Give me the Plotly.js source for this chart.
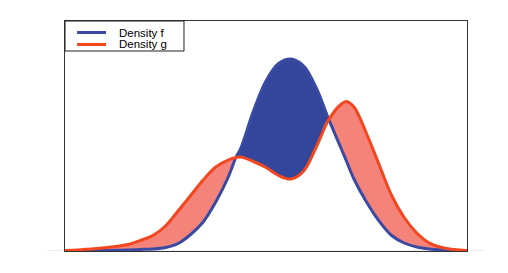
<!DOCTYPE html>
<html>
<head>
<meta charset="utf-8">
<script src="https://cdn.plot.ly/plotly-3.0.1.min.js"></script>
<style>html,body{margin:0;padding:0;background:#fff;}#chart{width:508px;height:273px;}</style>
</head>
<body>
<div id="chart"></div>
<script>
// x positions
const xs = [-4, -3.75, -3.5, -3.25, -3, -2.75, -2.5, -2.25, -2, -1.75, -1.5, -1.25, -1, -0.75, -0.6, -0.5, -0.25,
            0, 0.25, 0.5, 0.75, 1, 1.25, 1.5, 1.6, 1.75, 2, 2.25, 2.5, 2.75, 3, 3.25, 3.5, 3.75, 4];
// Density f (blue)
const densityF = [0.0004, 0.0006, 0.0008, 0.001, 0.0014, 0.002, 0.003, 0.004, 0.007, 0.015, 0.033, 0.058, 0.098, 0.148, 0.187, 0.206, 0.280,
                  0.340, 0.375, 0.384, 0.370, 0.326, 0.263, 0.204, 0.180, 0.144, 0.098, 0.060, 0.031, 0.016, 0.008, 0.004, 0.002, 0.001, 0.0004];
// Density g (red)
const densityG = [0.001, 0.002, 0.004, 0.006, 0.009, 0.013, 0.021, 0.031, 0.050, 0.080, 0.111, 0.142, 0.168, 0.182, 0.187, 0.188, 0.179,
                  0.167, 0.151, 0.144, 0.160, 0.208, 0.263, 0.294, 0.299, 0.288, 0.235, 0.173, 0.111, 0.067, 0.036, 0.016, 0.007, 0.003, 0.001];
const legendLabels = ["Density f", "Density g"];

const blueLine = "#3a4aa3", blueFill = "#34469b";
const redLine = "#f2471f", redFill = "#f4837a";

const lower = densityF.map((v, i) => Math.min(v, densityG[i]));

const hidden = {x: xs, y: lower, mode: "lines", line: {width: 0, shape: "spline"}, showlegend: false, hoverinfo: "skip"};
const traces = [
  Object.assign({}, hidden),
  {x: xs, y: densityF, mode: "lines", fill: "tonexty", fillcolor: blueFill, line: {width: 0, shape: "spline"}, showlegend: false, hoverinfo: "skip"},
  Object.assign({}, hidden),
  {x: xs, y: densityG, mode: "lines", fill: "tonexty", fillcolor: redFill, line: {width: 0, shape: "spline"}, showlegend: false, hoverinfo: "skip"},
  {x: xs, y: densityF, mode: "lines", name: legendLabels[0], line: {color: blueLine, width: 3, shape: "spline"}, showlegend: false},
  {x: xs, y: densityG, mode: "lines", name: legendLabels[1], line: {color: redLine, width: 3, shape: "spline"}, showlegend: false}
];

const font = {family: "Liberation Sans, Arial, Helvetica, sans-serif", size: 11.5, color: "#000"};

// legend geometry in paper units (plot area 402 x 230 px)
const yF = (251 - 32.5) / 230, yG = (251 - 44.5) / 230;

const layout = {
  width: 508, height: 273,
  margin: {l: 65, r: 41, t: 21, b: 22},
  paper_bgcolor: "#fff", plot_bgcolor: "#fff",
  showlegend: false,
  font: font,
  xaxis: {range: [-4, 4], showgrid: false, zeroline: false, showticklabels: false, ticks: "",
          showline: true, mirror: true, linecolor: "#333", linewidth: 1},
  yaxis: {range: [0, 0.46], showgrid: false, zeroline: false, showticklabels: false, ticks: "",
          showline: true, mirror: true, linecolor: "#333", linewidth: 1},
  shapes: [
    {type: "line", xref: "paper", yref: "paper", x0: -0.045, x1: 1.045, y0: 0.002, y1: 0.002, line: {color: "#eeeeee", width: 1}, layer: "below"},
    {type: "rect", xref: "paper", yref: "paper", x0: 0, x1: 0.296, y0: (251 - 51) / 230, y1: 1, line: {color: "#222", width: 1}, fillcolor: "#fff"},
    {type: "line", xref: "paper", yref: "paper", x0: 0.030, x1: 0.102, y0: yF, y1: yF, line: {color: blueLine, width: 3}},
    {type: "line", xref: "paper", yref: "paper", x0: 0.030, x1: 0.102, y0: yG, y1: yG, line: {color: redLine, width: 3}}
  ],
  annotations: [
    {xref: "paper", yref: "paper", x: 0.131, y: yF, xanchor: "left", yanchor: "middle", text: legendLabels[0], showarrow: false, font: font, borderpad: 0},
    {xref: "paper", yref: "paper", x: 0.131, y: yG, xanchor: "left", yanchor: "middle", text: legendLabels[1], showarrow: false, font: font, borderpad: 0}
  ]
};

Plotly.newPlot("chart", traces, layout, {staticPlot: true, displayModeBar: false});
</script>
</body>
</html>
